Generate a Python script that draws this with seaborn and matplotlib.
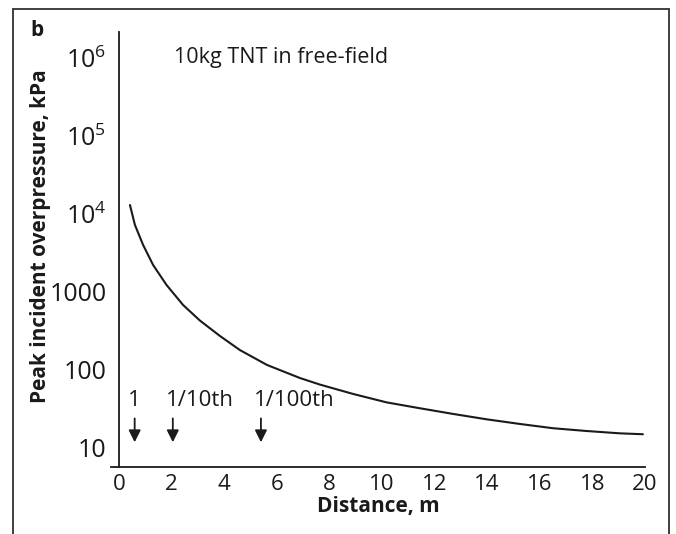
import matplotlib
matplotlib.use("Agg")
import matplotlib.pyplot as plt
import seaborn as sns
import pandas as pd
from matplotlib.lines import Line2D

# ---- data ----
distance_m = [0.42, 0.61, 0.92, 1.30, 1.81, 2.44, 3.08, 3.84, 4.60, 5.63, 6.88,
              7.64, 8.91, 10.18, 11.44, 12.71, 13.98, 15.25, 16.51, 17.78, 19.05, 19.92]
overpressure_kpa = [13030, 7230, 4010, 2220, 1230, 681, 430, 273, 180, 116, 78.9,
                    65.0, 49.2, 38.4, 32.3, 27.3, 23.3, 20.3, 17.9, 16.5, 15.4, 15.0]
marker_labels = ["1", "1/10th", "1/100th"]
marker_x = [0.6, 2.05, 5.4]
x_ticks = [0, 2, 4, 6, 8, 10, 12, 14, 16, 18, 20]
y_ticks = [10, 100, 1000, 1e4, 1e5, 1e6]
y_ticklabels = ["10", "100", "1000", r"$\mathregular{10^{4}}$", r"$\mathregular{10^{5}}$", r"$\mathregular{10^{6}}$"]
title_text = "10kg TNT in free-field"
panel_label = "b"

df = pd.DataFrame({"Distance": distance_m, "Overpressure": overpressure_kpa})

sns.set_theme(style="white")
plt.rcParams["font.family"] = ["Open Sans", "DejaVu Sans"]
plt.rcParams["mathtext.fontset"] = "custom"
plt.rcParams["mathtext.rm"] = "Open Sans"
plt.rcParams["mathtext.it"] = "Open Sans"

ink = "#1a1a1a"
fig = plt.figure(figsize=(6.76, 5.34), dpi=100)
ax = fig.add_axes([111/676, 67/534, (645-111)/676, (467-32)/534])

sns.lineplot(data=df, x="Distance", y="Overpressure", ax=ax, color=ink, linewidth=1.5)
ax.set_yscale("log")
ax.set_xlim(-0.3, 20)
ax.set_ylim(10**0.756, 10**6.333)

for s in ["top", "right"]:
    ax.spines[s].set_visible(False)
ax.spines["left"].set_position(("data", 0))
for s in ["left", "bottom"]:
    ax.spines[s].set_color(ink)
    ax.spines[s].set_linewidth(1.3)

ax.set_xticks(x_ticks)
ax.set_xticklabels([str(t) for t in x_ticks], fontsize=16, color=ink)
ax.tick_params(axis="x", direction="in", length=10, width=1.3, color=ink, pad=5)
ax.set_yticks(y_ticks)
ax.set_yticklabels(y_ticklabels, fontsize=18, color=ink)
ax.yaxis.set_minor_locator(matplotlib.ticker.NullLocator())
ax.tick_params(axis="y", which="both", length=0, pad=9)
ax.xaxis.get_major_ticks()[0].tick1line.set_visible(False)

ax.set_xlabel("Distance, m", fontsize=15, fontweight="bold", color=ink, labelpad=1)
ax.set_ylabel("Peak incident overpressure, kPa", fontsize=15, fontweight="bold", color=ink, labelpad=4)
ax.yaxis.set_label_coords(-0.112, 0.53)

ax.text(2.1, 1e6, title_text, fontsize=15.5, va="center", ha="left", color=ink)

for lab, xv in zip(marker_labels, marker_x):
    ax.annotate("", xy=(xv, 10.9), xytext=(xv, 26),
                arrowprops=dict(arrowstyle="-|>,head_length=0.6,head_width=0.3", color=ink, lw=1.3))
    ax.annotate(lab, xy=(xv, 41), xytext=(-5, 0), textcoords="offset points",
                ha="left", va="center", fontsize=16, color=ink)

fig.text(37/676, 1 - 31/534, panel_label, fontsize=15, fontweight="bold", ha="center", va="center", color=ink)

fx0, fx1, fy = 13/676, 669/676, 1 - 9/534
for xs, ys in [([fx0, fx0], [0, fy]), ([fx0, fx1], [fy, fy]), ([fx1, fx1], [fy, 0])]:
    fig.add_artist(Line2D(xs, ys, transform=fig.transFigure, color="#333333", linewidth=1.3))

fig.savefig("out.png", dpi=100)
